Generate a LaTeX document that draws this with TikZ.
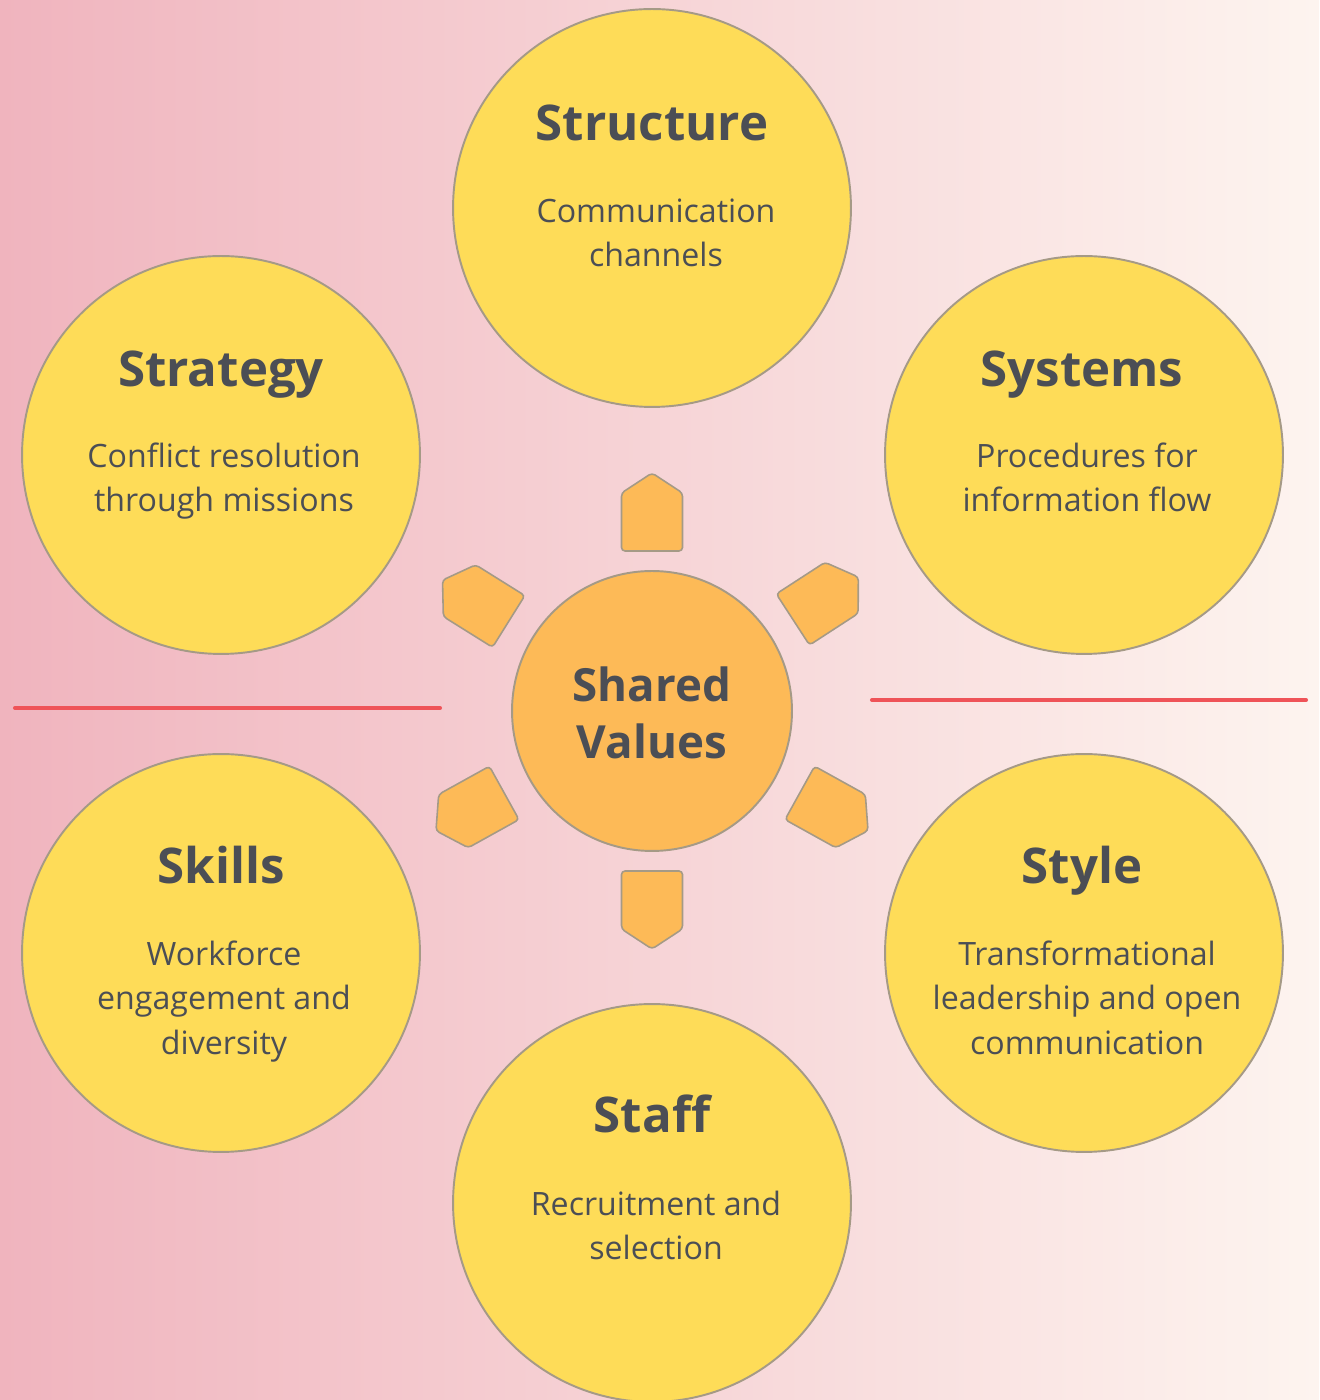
\documentclass[tikz,border=0pt]{standalone}
\usepackage{fontspec}
\setmainfont{Open Sans}
\usetikzlibrary{calc}
\definecolor{bgL}{HTML}{F0B4BE}
\definecolor{bgR}{HTML}{FDF4EF}
\definecolor{circY}{HTML}{FEDC58}
\definecolor{circO}{HTML}{FDBA57}
\definecolor{edgeG}{HTML}{A59A86}
\definecolor{txt}{HTML}{4B4E55}
\definecolor{redl}{HTML}{EF5358}
\tikzset{
  bigcirc/.style={circle,draw=edgeG,line width=1.1pt,fill=circY,minimum size=7.96cm,inner sep=0pt},
  midcirc/.style={circle,draw=edgeG,line width=1.1pt,fill=circO,minimum size=5.6cm,inner sep=0pt},
  ttl/.style={anchor=base,text=txt,font=\bfseries\fontsize{28}{33}\selectfont,inner sep=0pt},
  bdy/.style={anchor=base,text=txt,font=\fontsize{18.3}{23}\selectfont,inner sep=0pt},
  svtxt/.style={anchor=base,text=txt,font=\bfseries\fontsize{26}{31}\selectfont,inner sep=0pt},
  ray/.style={draw=edgeG,line width=0.9pt,fill=circO,rounded corners=2pt},
  sepline/.style={draw=redl,line width=2.3pt,line cap=round}
}
\begin{document}
\begin{tikzpicture}[x=0.02cm,y=0.02cm]
\useasboundingbox (0,0) rectangle (1319,1400);
\clip (0,0) rectangle (1319,1400);
\shade[left color=bgL,right color=bgR] (0,0) rectangle (1319,1400);
% separator lines
\coordinate (l1) at (15,692); \coordinate (l2) at (440,692);
\coordinate (r1) at (872,700); \coordinate (r2) at (1306,700);
\draw[sepline] (l1) -- (l2);
\draw[sepline] (r1) -- (r2);
% centre
\node[midcirc] (sv) at (652,689) {};
\foreach \a/\d in {90/0,148/9,33/8,209/9,331/9,270/0}{
  \begin{scope}[shift={(sv.center)},rotate=\a-90,yshift=\d*0.02cm]
    \path[ray] (-30.5,160) -- (30.5,160) -- (30.5,218) -- (0,238) -- (-30.5,218) -- cycle;
  \end{scope}
}
\node[svtxt] (svt1) at ($(sv.center)+(0,9)$) {Shared};
\node[svtxt] (svt2) at ($(sv.center)+(0,-48)$) {Values};
% outer circles
\node[bigcirc] (str) at (652,1192) {};
\node[bigcirc] (stg) at (221,945) {};
\node[bigcirc] (sys) at (1084,945) {};
\node[bigcirc] (skl) at (221,447) {};
\node[bigcirc] (sty) at (1084,447) {};
\node[bigcirc] (stf) at (652,197) {};
% Structure
\node[ttl] (strT) at ($(str.center)+(0,67)$) {Structure};
\node[bdy] (strB1) at ($(str.center)+(4,-15)$) {Communication};
\node[bdy] (strB2) at ($(str.center)+(4,-59)$) {channels};
% Strategy
\node[ttl] (stgT) at ($(stg.center)+(0,68)$) {Strategy};
\node[bdy] (stgB1) at ($(stg.center)+(3,-13)$) {Conflict resolution};
\node[bdy] (stgB2) at ($(stg.center)+(3,-57)$) {through missions};
% Systems
\node[ttl] (sysT) at ($(sys.center)+(-2,68)$) {Systems};
\node[bdy] (sysB1) at ($(sys.center)+(3,-13)$) {Procedures for};
\node[bdy] (sysB2) at ($(sys.center)+(3,-57)$) {information flow};
% Skills
\node[ttl] (sklT) at ($(skl.center)+(0,69)$) {Skills};
\node[bdy] (sklB1) at ($(skl.center)+(3,-13)$) {Workforce};
\node[bdy] (sklB2) at ($(skl.center)+(3,-57)$) {engagement and};
\node[bdy] (sklB3) at ($(skl.center)+(3,-102)$) {diversity};
% Style
\node[ttl] (styT) at ($(sty.center)+(-2,69)$) {Style};
\node[bdy] (styB1) at ($(sty.center)+(3,-13)$) {Transformational};
\node[bdy] (styB2) at ($(sty.center)+(3,-57)$) {leadership and open};
\node[bdy] (styB3) at ($(sty.center)+(3,-102)$) {communication};
% Staff
\node[ttl] (stfT) at ($(stf.center)+(0,70)$) {Staff};
\node[bdy] (stfB1) at ($(stf.center)+(4,-13)$) {Recruitment and};
\node[bdy] (stfB2) at ($(stf.center)+(4,-57)$) {selection};
\end{tikzpicture}
\end{document}
